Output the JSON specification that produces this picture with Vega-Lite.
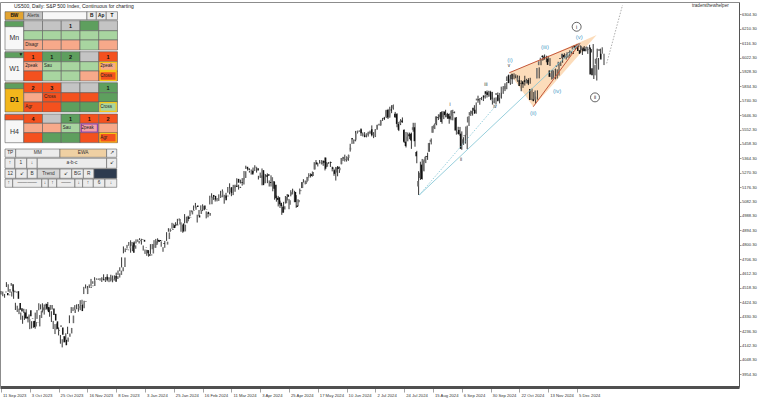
{
"$schema":"https://vega.github.io/schema/vega-lite/v6.json",
"width":739,"height":385,
"autosize":{"type":"none"},
"padding":{"left":0,"top":2,"right":19,"bottom":15},
"background":"white",
"config":{"view":{"stroke":null},"font":"Liberation Sans"},
"datasets":{
"k":[
{"i":0,"o":4489,"h":4498,"l":4475,"c":4495},{"i":1,"o":4485,"h":4495,"l":4464,"c":4470},{"i":2,"o":4470,"h":4479,"l":4454,"c":4475},{"i":3,"o":4532,"h":4556,"l":4524,"c":4550},{"i":4,"o":4542,"h":4542,"l":4493,"c":4495},{"i":5,"o":4490,"h":4511,"l":4487,"c":4499},{"i":6,"o":4493,"h":4494,"l":4462,"c":4489},{"i":7,"o":4497,"h":4506,"l":4447,"c":4447},{"i":8,"o":4420,"h":4421,"l":4374,"c":4375},{"i":9,"o":4386,"h":4402,"l":4361,"c":4365},
{"i":10,"o":4355,"h":4383,"l":4347,"c":4382},{"i":11,"o":4358,"h":4358,"l":4310,"c":4319},{"i":12,"o":4328,"h":4337,"l":4284,"c":4319},{"i":13,"o":4314,"h":4362,"l":4309,"c":4345},{"i":14,"o":4373,"h":4379,"l":4319,"c":4333},{"i":15,"o":4317,"h":4333,"l":4293,"c":4321},{"i":16,"o":4303,"h":4314,"l":4249,"c":4262},{"i":17,"o":4266,"h":4301,"l":4253,"c":4296},{"i":18,"o":4293,"h":4301,"l":4258,"c":4291},{"i":19,"o":4267,"h":4357,"l":4252,"c":4341},
{"i":20,"o":4322,"h":4374,"l":4316,"c":4369},{"i":21,"o":4372,"h":4418,"l":4372,"c":4391},{"i":22,"o":4400,"h":4411,"l":4378,"c":4409},{"i":23,"o":4413,"h":4418,"l":4358,"c":4382},{"i":24,"o":4393,"h":4410,"l":4344,"c":4360},{"i":25,"o":4375,"h":4416,"l":4375,"c":4407},{"i":26,"o":4378,"h":4426,"l":4370,"c":4406},{"i":27,"o":4384,"h":4391,"l":4330,"c":4341},{"i":28,"o":4349,"h":4366,"l":4296,"c":4305},{"i":29,"o":4300,"h":4303,"l":4250,"c":4251},
{"i":30,"o":4238,"h":4282,"l":4217,"c":4244},{"i":31,"o":4263,"h":4286,"l":4247,"c":4275},{"i":32,"o":4259,"h":4260,"l":4208,"c":4213},{"i":33,"o":4202,"h":4211,"l":4154,"c":4164},{"i":34,"o":4180,"h":4183,"l":4130,"c":4144},{"i":35,"o":4167,"h":4204,"l":4162,"c":4194},{"i":36,"o":4199,"h":4222,"l":4180,"c":4221},{"i":37,"o":4221,"h":4265,"l":4217,"c":4257},{"i":38,"o":4288,"h":4339,"l":4288,"c":4338},{"i":39,"o":4354,"h":4393,"l":4354,"c":4378},
{"i":40,"o":4384,"h":4392,"l":4367,"c":4385},{"i":41,"o":4386,"h":4406,"l":4375,"c":4398},{"i":42,"o":4404,"h":4411,"l":4379,"c":4403},{"i":43,"o":4411,"h":4413,"l":4363,"c":4367},{"i":44,"o":4385,"h":4438,"l":4373,"c":4435},{"i":45,"o":4426,"h":4441,"l":4413,"c":4431},{"i":46,"o":4478,"h":4525,"l":4478,"c":4516},{"i":47,"o":4525,"h":4541,"l":4515,"c":4522},{"i":48,"o":4517,"h":4531,"l":4507,"c":4528},{"i":49,"o":4529,"h":4541,"l":4520,"c":4534},
{"i":50,"o":4531,"h":4577,"l":4531,"c":4567},{"i":51,"o":4558,"h":4562,"l":4545,"c":4558},{"i":52,"o":4573,"h":4588,"l":4565,"c":4576},{"i":53,"o":4576,"h":4580,"l":4572,"c":4577},{"i":54,"o":4575,"h":4580,"l":4572,"c":4579},{"i":55,"o":4575,"h":4582,"l":4566,"c":4570},{"i":56,"o":4565,"h":4588,"l":4557,"c":4574},{"i":57,"o":4591,"h":4607,"l":4567,"c":4571},{"i":58,"o":4579,"h":4589,"l":4557,"c":4588},{"i":59,"o":4568,"h":4608,"l":4561,"c":4604},
{"i":60,"o":4574,"h":4584,"l":4556,"c":4578},{"i":61,"o":4566,"h":4587,"l":4560,"c":4576},{"i":62,"o":4596,"h":4599,"l":4555,"c":4558},{"i":63,"o":4577,"h":4600,"l":4575,"c":4594},{"i":64,"o":4586,"h":4618,"l":4584,"c":4613},{"i":65,"o":4603,"h":4632,"l":4603,"c":4631},{"i":66,"o":4627,"h":4653,"l":4627,"c":4653},{"i":67,"o":4655,"h":4718,"l":4652,"c":4716},{"i":68,"o":4772,"h":4789,"l":4744,"c":4769},{"i":69,"o":4764,"h":4776,"l":4752,"c":4769},
{"i":70,"o":4776,"h":4799,"l":4775,"c":4790},{"i":71,"o":4793,"h":4818,"l":4793,"c":4818},{"i":72,"o":4814,"h":4829,"l":4748,"c":4748},{"i":73,"o":4774,"h":4798,"l":4758,"c":4796},{"i":74,"o":4804,"h":4822,"l":4787,"c":4805},{"i":75,"o":4808,"h":4835,"l":4808,"c":4825},{"i":76,"o":4823,"h":4835,"l":4819,"c":4831},{"i":77,"o":4836,"h":4843,"l":4830,"c":4833},{"i":78,"o":4832,"h":4839,"l":4801,"c":4820},{"i":79,"o":4785,"h":4795,"l":4762,"c":4783},
{"i":80,"o":4766,"h":4769,"l":4740,"c":4745},{"i":81,"o":4738,"h":4767,"l":4728,"c":4728},{"i":82,"o":4730,"h":4761,"l":4722,"c":4737},{"i":83,"o":4743,"h":4804,"l":4740,"c":4804},{"i":84,"o":4781,"h":4805,"l":4770,"c":4797},{"i":85,"o":4799,"h":4830,"l":4796,"c":4823},{"i":86,"o":4832,"h":4838,"l":4780,"c":4820},{"i":87,"o":4831,"h":4842,"l":4808,"c":4824},{"i":88,"o":4824,"h":4830,"l":4818,"c":4826},{"i":89,"o":4812,"h":4822,"l":4787,"c":4806},
{"i":90,"o":4779,"h":4784,"l":4754,"c":4779},{"i":91,"o":4801,"h":4825,"l":4780,"c":4820},{"i":92,"o":4837,"h":4882,"l":4825,"c":4880},{"i":93,"o":4893,"h":4908,"l":4885,"c":4891},{"i":94,"o":4896,"h":4906,"l":4884,"c":4905},{"i":95,"o":4928,"h":4943,"l":4905,"c":4909},{"i":96,"o":4926,"h":4938,"l":4909,"c":4935},{"i":97,"o":4928,"h":4947,"l":4921,"c":4931},{"i":98,"o":4932,"h":4969,"l":4927,"c":4968},{"i":99,"o":4965,"h":4972,"l":4957,"c":4965},
{"i":100,"o":4939,"h":4946,"l":4885,"c":4886},{"i":101,"o":4887,"h":4931,"l":4878,"c":4931},{"i":102,"o":4941,"h":5000,"l":4940,"c":4984},{"i":103,"o":4982,"h":4982,"l":4943,"c":4968},{"i":104,"o":4976,"h":4989,"l":4953,"c":4979},{"i":105,"o":4998,"h":5025,"l":4986,"c":5020},{"i":106,"o":5020,"h":5025,"l":5012,"c":5023},{"i":107,"o":5029,"h":5056,"l":5024,"c":5052},{"i":108,"o":5057,"h":5073,"l":5041,"c":5047},{"i":109,"o":4992,"h":4996,"l":4945,"c":4978},
{"i":110,"o":5001,"h":5027,"l":4988,"c":5026},{"i":111,"o":5029,"h":5057,"l":5024,"c":5055},{"i":112,"o":5056,"h":5064,"l":5020,"c":5031},{"i":113,"o":5031,"h":5035,"l":5025,"c":5029},{"i":114,"o":5015,"h":5018,"l":4972,"c":5001},{"i":115,"o":4989,"h":5009,"l":4979,"c":5007},{"i":116,"o":5064,"h":5120,"l":5063,"c":5113},{"i":117,"o":5125,"h":5136,"l":5106,"c":5114},{"i":118,"o":5119,"h":5122,"l":5093,"c":5095},{"i":119,"o":5099,"h":5105,"l":5082,"c":5103},
{"i":120,"o":5093,"h":5102,"l":5083,"c":5094},{"i":121,"o":5110,"h":5129,"l":5086,"c":5121},{"i":122,"o":5110,"h":5152,"l":5106,"c":5149},{"i":123,"o":5143,"h":5161,"l":5140,"c":5143},{"i":124,"o":5122,"h":5126,"l":5068,"c":5091},{"i":125,"o":5120,"h":5139,"l":5104,"c":5117},{"i":126,"o":5144,"h":5177,"l":5140,"c":5169},{"i":127,"o":5176,"h":5201,"l":5129,"c":5136},{"i":128,"o":5124,"h":5137,"l":5117,"c":5130},{"i":129,"o":5146,"h":5191,"l":5127,"c":5187},
{"i":130,"o":5186,"h":5192,"l":5172,"c":5177},{"i":131,"o":5230,"h":5234,"l":5186,"c":5205},{"i":132,"o":5178,"h":5192,"l":5160,"c":5172},{"i":133,"o":5209,"h":5225,"l":5200,"c":5204},{"i":134,"o":5194,"h":5235,"l":5186,"c":5234},{"i":135,"o":5236,"h":5281,"l":5226,"c":5280},{"i":136,"o":5309,"h":5316,"l":5295,"c":5296},{"i":137,"o":5298,"h":5301,"l":5284,"c":5289},{"i":138,"o":5274,"h":5284,"l":5271,"c":5273},{"i":139,"o":5283,"h":5291,"l":5258,"c":5259},
{"i":140,"o":5281,"h":5304,"l":5269,"c":5303},{"i":141,"o":5303,"h":5319,"l":5301,"c":5309},{"i":142,"o":5300,"h":5306,"l":5271,"c":5285},{"i":143,"o":5246,"h":5250,"l":5226,"c":5247},{"i":144,"o":5237,"h":5271,"l":5236,"c":5253},{"i":145,"o":5287,"h":5298,"l":5188,"c":5189},{"i":146,"o":5201,"h":5264,"l":5200,"c":5246},{"i":147,"o":5253,"h":5261,"l":5239,"c":5244},{"i":148,"o":5260,"h":5266,"l":5202,"c":5251},{"i":149,"o":5209,"h":5220,"l":5180,"c":5203},
{"i":150,"o":5214,"h":5253,"l":5180,"c":5241},{"i":151,"o":5214,"h":5217,"l":5149,"c":5165},{"i":152,"o":5191,"h":5210,"l":5094,"c":5103},{"i":153,"o":5106,"h":5121,"l":5081,"c":5093},{"i":154,"o":5110,"h":5119,"l":5050,"c":5064},{"i":155,"o":5074,"h":5088,"l":5040,"c":5053},{"i":156,"o":5048,"h":5061,"l":4995,"c":5009},{"i":157,"o":5030,"h":5080,"l":5011,"c":5052},{"i":158,"o":5071,"h":5118,"l":5069,"c":5112},{"i":159,"o":5127,"h":5131,"l":5089,"c":5113},
{"i":160,"o":5061,"h":5099,"l":5032,"c":5090},{"i":161,"o":5127,"h":5156,"l":5116,"c":5142},{"i":162,"o":5156,"h":5166,"l":5131,"c":5158},{"i":163,"o":5145,"h":5152,"l":5078,"c":5078},{"i":164,"o":5057,"h":5124,"l":5041,"c":5046},{"i":165,"o":5078,"h":5097,"l":5051,"c":5092},{"i":166,"o":5150,"h":5167,"l":5129,"c":5156},{"i":167,"o":5170,"h":5209,"l":5170,"c":5209},{"i":168,"o":5215,"h":5228,"l":5206,"c":5215},{"i":169,"o":5196,"h":5219,"l":5194,"c":5215},
{"i":170,"o":5217,"h":5243,"l":5208,"c":5242},{"i":171,"o":5253,"h":5267,"l":5238,"c":5251},{"i":172,"o":5261,"h":5266,"l":5239,"c":5249},{"i":173,"o":5249,"h":5278,"l":5245,"c":5275},{"i":174,"o":5292,"h":5339,"l":5291,"c":5336},{"i":175,"o":5338,"h":5353,"l":5324,"c":5325},{"i":176,"o":5331,"h":5333,"l":5311,"c":5331},{"i":177,"o":5333,"h":5353,"l":5330,"c":5336},{"i":178,"o":5326,"h":5352,"l":5325,"c":5349},{"i":179,"o":5347,"h":5351,"l":5315,"c":5335},
{"i":180,"o":5369,"h":5370,"l":5285,"c":5296},{"i":181,"o":5310,"h":5339,"l":5307,"c":5333},{"i":182,"o":5333,"h":5340,"l":5328,"c":5336},{"i":183,"o":5338,"h":5343,"l":5308,"c":5334},{"i":184,"o":5306,"h":5310,"l":5279,"c":5295},{"i":185,"o":5287,"h":5296,"l":5250,"c":5263},{"i":186,"o":5271,"h":5308,"l":5219,"c":5305},{"i":187,"o":5309,"h":5314,"l":5247,"c":5295},{"i":188,"o":5287,"h":5310,"l":5269,"c":5303},{"i":189,"o":5326,"h":5366,"l":5325,"c":5366},
{"i":190,"o":5369,"h":5374,"l":5347,"c":5364},{"i":191,"o":5355,"h":5388,"l":5343,"c":5359},{"i":192,"o":5353,"h":5377,"l":5343,"c":5373},{"i":193,"o":5366,"h":5388,"l":5348,"c":5387},{"i":194,"o":5421,"h":5459,"l":5408,"c":5433},{"i":195,"o":5496,"h":5497,"l":5458,"c":5489},{"i":196,"o":5479,"h":5487,"l":5459,"c":5486},{"i":197,"o":5486,"h":5543,"l":5475,"c":5528},{"i":198,"o":5532,"h":5545,"l":5526,"c":5542},{"i":199,"o":5542,"h":5547,"l":5537,"c":5543},
{"i":200,"o":5554,"h":5560,"l":5510,"c":5528},{"i":201,"o":5515,"h":5533,"l":5507,"c":5519},{"i":202,"o":5514,"h":5535,"l":5502,"c":5503},{"i":203,"o":5515,"h":5527,"l":5501,"c":5524},{"i":204,"o":5516,"h":5538,"l":5506,"c":5532},{"i":205,"o":5529,"h":5545,"l":5522,"c":5538},{"i":206,"o":5554,"h":5579,"l":5507,"c":5515},{"i":207,"o":5516,"h":5535,"l":5496,"c":5520},{"i":208,"o":5506,"h":5554,"l":5503,"c":5554},{"i":209,"o":5552,"h":5584,"l":5552,"c":5582},
{"i":210,"o":5582,"h":5590,"l":5578,"c":5585},{"i":211,"o":5582,"h":5615,"l":5576,"c":5612},{"i":212,"o":5617,"h":5628,"l":5608,"c":5617},{"i":213,"o":5629,"h":5635,"l":5614,"c":5622},{"i":214,"o":5636,"h":5681,"l":5627,"c":5678},{"i":215,"o":5680,"h":5687,"l":5621,"c":5630},{"i":216,"o":5636,"h":5701,"l":5629,"c":5660},{"i":217,"o":5683,"h":5711,"l":5659,"c":5676},{"i":218,"o":5689,"h":5715,"l":5682,"c":5712},{"i":219,"o":5655,"h":5667,"l":5629,"c":5633},
{"i":220,"o":5653,"h":5659,"l":5567,"c":5589},{"i":221,"o":5588,"h":5602,"l":5542,"c":5550},{"i":222,"o":5590,"h":5620,"l":5581,"c":5609},{"i":223,"o":5611,"h":5631,"l":5596,"c":5600},{"i":224,"o":5550,"h":5553,"l":5464,"c":5472},{"i":225,"o":5473,"h":5536,"l":5435,"c":5444},{"i":226,"o":5479,"h":5533,"l":5475,"c":5504},{"i":227,"o":5522,"h":5532,"l":5489,"c":5508},{"i":228,"o":5524,"h":5532,"l":5426,"c":5481},{"i":229,"o":5550,"h":5596,"l":5538,"c":5567},
{"i":230,"o":5567,"h":5596,"l":5440,"c":5476},{"i":231,"o":5406,"h":5413,"l":5332,"c":5377},{"i":232,"o":5181,"h":5280,"l":5125,"c":5216},{"i":233,"o":5236,"h":5342,"l":5223,"c":5270},{"i":234,"o":5323,"h":5360,"l":5225,"c":5229},{"i":235,"o":5283,"h":5357,"l":5279,"c":5349},{"i":236,"o":5343,"h":5380,"l":5333,"c":5374},{"i":237,"o":5380,"h":5401,"l":5354,"c":5374},{"i":238,"o":5407,"h":5466,"l":5407,"c":5464},{"i":239,"o":5472,"h":5494,"l":5455,"c":5485},
{"i":240,"o":5531,"h":5576,"l":5531,"c":5573},{"i":241,"o":5561,"h":5592,"l":5555,"c":5584},{"i":242,"o":5587,"h":5638,"l":5580,"c":5638},{"i":243,"o":5632,"h":5651,"l":5614,"c":5627},{"i":244,"o":5633,"h":5663,"l":5621,"c":5650},{"i":245,"o":5667,"h":5673,"l":5590,"c":5601},{"i":246,"o":5632,"h":5671,"l":5620,"c":5664},{"i":247,"o":5669,"h":5681,"l":5632,"c":5646},{"i":248,"o":5633,"h":5661,"l":5623,"c":5655},{"i":249,"o":5654,"h":5657,"l":5590,"c":5622},
{"i":250,"o":5638,"h":5676,"l":5613,"c":5622},{"i":251,"o":5642,"h":5681,"l":5612,"c":5678},{"i":252,"o":5666,"h":5670,"l":5658,"c":5663},{"i":253,"o":5630,"h":5634,"l":5519,"c":5546},{"i":254,"o":5524,"h":5570,"l":5521,"c":5538},{"i":255,"o":5549,"h":5569,"l":5511,"c":5521},{"i":256,"o":5525,"h":5540,"l":5420,"c":5426},{"i":257,"o":5460,"h":5502,"l":5452,"c":5489},{"i":258,"o":5509,"h":5519,"l":5460,"c":5514},{"i":259,"o":5514,"h":5578,"l":5424,"c":5572},
{"i":260,"o":5598,"h":5640,"l":5575,"c":5636},{"i":261,"o":5643,"h":5676,"l":5641,"c":5666},{"i":262,"o":5655,"h":5676,"l":5643,"c":5673},{"i":263,"o":5695,"h":5711,"l":5654,"c":5674},{"i":264,"o":5681,"h":5729,"l":5655,"c":5658},{"i":265,"o":5742,"h":5773,"l":5727,"c":5754},{"i":266,"o":5749,"h":5755,"l":5714,"c":5743},{"i":267,"o":5751,"h":5765,"l":5744,"c":5758},{"i":268,"o":5773,"h":5775,"l":5738,"c":5772},{"i":269,"o":5773,"h":5782,"l":5754,"c":5762},
{"i":270,"o":5802,"h":5807,"l":5761,"c":5785},{"i":271,"o":5795,"h":5805,"l":5767,"c":5778},{"i":272,"o":5767,"h":5805,"l":5744,"c":5802},{"i":273,"o":5797,"h":5798,"l":5715,"c":5749},{"i":274,"o":5738,"h":5760,"l":5723,"c":5750},{"i":275,"o":5726,"h":5762,"l":5715,"c":5740},{"i":276,"o":5777,"h":5794,"l":5744,"c":5791},{"i":277,"o":5777,"h":5779,"l":5723,"c":5736},{"i":278,"o":5759,"h":5797,"l":5754,"c":5791},{"i":279,"o":5792,"h":5836,"l":5785,"c":5832},
{"i":280,"o":5818,"h":5836,"l":5803,"c":5820},{"i":281,"o":5815,"h":5862,"l":5815,"c":5855},{"i":282,"o":5869,"h":5911,"l":5869,"c":5899},{"i":283,"o":5906,"h":5910,"l":5844,"c":5855},{"i":284,"o":5857,"h":5884,"l":5850,"c":5883},{"i":285,"o":5916,"h":5919,"l":5880,"c":5881},{"i":286,"o":5900,"h":5912,"l":5886,"c":5905},{"i":287,"o":5897,"h":5906,"l":5864,"c":5893},{"i":288,"o":5872,"h":5903,"l":5865,"c":5891},{"i":289,"o":5874,"h":5874,"l":5802,"c":5837},
{"i":290,"o":5853,"h":5857,"l":5824,"c":5849},{"i":291,"o":5867,"h":5903,"l":5839,"c":5848},{"i":292,"o":5874,"h":5883,"l":5862,"c":5863},{"i":293,"o":5853,"h":5887,"l":5842,"c":5873},{"i":294,"o":5875,"h":5890,"l":5851,"c":5853},{"i":295,"o":5816,"h":5820,"l":5743,"c":5745},{"i":296,"o":5748,"h":5797,"l":5748,"c":5754},{"i":297,"o":5750,"h":5767,"l":5721,"c":5737},{"i":298,"o":5747,"h":5808,"l":5747,"c":5807},{"i":299,"o":5886,"h":5958,"l":5886,"c":5954},
{"i":300,"o":5972,"h":6008,"l":5972,"c":5998},{"i":301,"o":6002,"h":6037,"l":6002,"c":6021},{"i":302,"o":6034,"h":6042,"l":6011,"c":6026},{"i":303,"o":6029,"h":6034,"l":5991,"c":6009},{"i":304,"o":6010,"h":6033,"l":5994,"c":6010},{"i":305,"o":6015,"h":6018,"l":5967,"c":5974},{"i":306,"o":5938,"h":5940,"l":5878,"c":5896},{"i":307,"o":5895,"h":5934,"l":5890,"c":5919},{"i":308,"o":5882,"h":5950,"l":5880,"c":5942},{"i":309,"o":5940,"h":5945,"l":5885,"c":5943},
{"i":310,"o":5960,"h":5989,"l":5904,"c":5973},{"i":311,"o":5969,"h":5998,"l":5967,"c":5994},{"i":312,"o":6017,"h":6046,"l":5988,"c":6012},{"i":313,"o":6017,"h":6050,"l":6017,"c":6046},{"i":314,"o":6039,"h":6045,"l":6009,"c":6024},{"i":315,"o":6024,"h":6037,"l":6020,"c":6033},{"i":316,"o":6028,"h":6069,"l":6028,"c":6057},{"i":317,"o":6052,"h":6065,"l":6047,"c":6059},{"i":318,"o":6054,"h":6064,"l":6045,"c":6062},{"i":319,"o":6075,"h":6101,"l":6073,"c":6098},
{"i":320,"o":6101,"h":6111,"l":6082,"c":6087},{"i":321,"o":6094,"h":6111,"l":6091,"c":6102},{"i":322,"o":6095,"h":6101,"l":6053,"c":6065},{"i":323,"o":6070,"h":6077,"l":6039,"c":6046},{"i":324,"o":6070,"h":6097,"l":6065,"c":6096},{"i":325,"o":6087,"h":6091,"l":6063,"c":6063},{"i":326,"o":6080,"h":6090,"l":6046,"c":6063},{"i":327,"o":6083,"h":6105,"l":6079,"c":6094},{"i":328,"o":6073,"h":6077,"l":6055,"c":6071},{"i":329,"o":6087,"h":6110,"l":5907,"c":5912},
{"i":330,"o":5952,"h":5975,"l":5906,"c":5907},{"i":331,"o":5882,"h":6022,"l":5872,"c":5970},{"i":332,"o":5981,"h":6019,"l":5943,"c":6014},{"i":333,"o":6024,"h":6080,"l":6022,"c":6080},{"i":334,"o":6065,"h":6089,"l":6047,"c":6077},{"i":335,"o":6046,"h":6047,"l":5973,"c":6010}
],
"tri":[{"i":282.4,"hi":5923,"lo":5923},{"i":295.7,"hi":5990,"lo":5701},{"i":330.9,"hi":6169,"lo":6169}],
"wedge":[{"i1":282.4,"p1":5923,"i2":321.7,"p2":6115},{"i1":295.7,"p1":5701,"i2":321.7,"p2":6115}],
"tsolid":[{"i1":232.4,"p1":5125,"i2":321.7,"p2":6115}],
"tdot":[{"i1":232.4,"p1":5125,"i2":275.5,"p2":5716}],
"gdot":[{"i1":336.5,"p1":5984,"i2":345.3,"p2":6365}],
"wl":[{"i":282.8,"p":6006,"t":"(i)"},{"i":295.7,"p":5658,"t":"(ii)"},{"i":302.2,"p":6089,"t":"(iii)"},{"i":309,"p":5806,"t":"(iv)"},{"i":321.3,"p":6154,"t":"(v)"}],
"sl":[{"i":249.4,"p":5712,"t":"i"},{"i":255.6,"p":5353,"t":"ii"},{"i":269.4,"p":5843,"t":"iii"},{"i":274.4,"p":5697,"t":"iv"},{"i":282.2,"p":5966,"t":"v"}],
"cl":[{"i":319.8,"p":6223,"t":"i"},{"i":330,"p":5762,"t":"ii"}],
"cells":[
{"c":0,"c2":1,"r":0,"r2":0.8,"s":"bw"},{"c":1,"c2":2,"r":0,"r2":0.8,"s":"g0"},{"c":2,"c2":4.37,"r":0,"r2":0.8,"s":"w"},{"c":4.37,"c2":4.87,"r":0,"r2":0.8,"s":"bt"},{"c":4.87,"c2":5.4,"r":0,"r2":0.8,"s":"bt"},{"c":5.4,"c2":6,"r":0,"r2":0.8,"s":"bt"},
{"c":0,"c2":1,"r":0.9,"r2":3.83,"s":"w"},{"c":0,"c2":1,"r":0.95,"r2":1.5,"s":"dg"},
{"c":0,"c2":1,"r":4.0,"r2":6.93,"s":"w"},{"c":0,"c2":1,"r":4.05,"r2":4.6,"s":"dg"},
{"c":0,"c2":1,"r":7.1,"r2":10.03,"s":"yl"},{"c":0,"c2":1,"r":7.15,"r2":7.7,"s":"dg"},
{"c":0,"c2":1,"r":10.23,"r2":13.1,"s":"w"},{"c":0,"c2":1,"r":10.28,"r2":10.83,"s":"rd"},
{"c":1,"c2":2,"r":0.9,"r2":1.9,"s":"g0"},{"c":2,"c2":3,"r":0.9,"r2":1.9,"s":"g0"},{"c":3,"c2":4,"r":0.9,"r2":1.9,"s":"g0"},{"c":4,"c2":5,"r":0.9,"r2":1.9,"s":"dg"},{"c":5,"c2":6,"r":0.9,"r2":1.9,"s":"g0"},
{"c":1,"c2":2,"r":1.9,"r2":2.83,"s":"lg"},{"c":2,"c2":3,"r":1.9,"r2":2.83,"s":"lg"},{"c":3,"c2":4,"r":1.9,"r2":2.83,"s":"lg"},{"c":4,"c2":5,"r":1.9,"r2":2.83,"s":"lg"},{"c":5,"c2":6,"r":1.9,"r2":2.83,"s":"lg"},
{"c":1,"c2":2,"r":2.83,"r2":3.83,"s":"lr"},{"c":2,"c2":3,"r":2.83,"r2":3.83,"s":"lr"},{"c":3,"c2":4,"r":2.83,"r2":3.83,"s":"lr"},{"c":4,"c2":5,"r":2.83,"r2":3.83,"s":"lg"},{"c":5,"c2":6,"r":2.83,"r2":3.83,"s":"lr"},
{"c":1,"c2":2,"r":4.0,"r2":5.0,"s":"rd"},{"c":2,"c2":3,"r":4.0,"r2":5.0,"s":"dg"},{"c":3,"c2":4,"r":4.0,"r2":5.0,"s":"dg"},{"c":4,"c2":5,"r":4.0,"r2":5.0,"s":"g0"},{"c":5,"c2":6,"r":4.0,"r2":5.0,"s":"rd"},
{"c":1,"c2":2,"r":5.0,"r2":5.93,"s":"lr"},{"c":2,"c2":3,"r":5.0,"r2":5.93,"s":"lg"},{"c":3,"c2":4,"r":5.0,"r2":5.93,"s":"lg"},{"c":4,"c2":5,"r":5.0,"r2":5.93,"s":"lg"},{"c":5,"c2":6,"r":5.0,"r2":5.93,"s":"lr"},
{"c":1,"c2":2,"r":5.93,"r2":6.93,"s":"rd"},{"c":2,"c2":3,"r":5.93,"r2":6.93,"s":"lg"},{"c":3,"c2":4,"r":5.93,"r2":6.93,"s":"lg"},{"c":4,"c2":5,"r":5.93,"r2":6.93,"s":"lr"},{"c":5,"c2":6,"r":5.93,"r2":6.93,"s":"rd"},
{"c":1,"c2":2,"r":7.1,"r2":8.1,"s":"rd"},{"c":2,"c2":3,"r":7.1,"r2":8.1,"s":"rd"},{"c":3,"c2":4,"r":7.1,"r2":8.1,"s":"g0"},{"c":4,"c2":5,"r":7.1,"r2":8.1,"s":"g0"},{"c":5,"c2":6,"r":7.1,"r2":8.1,"s":"dg"},
{"c":1,"c2":2,"r":8.1,"r2":9.03,"s":"lr"},{"c":2,"c2":3,"r":8.1,"r2":9.03,"s":"rd"},{"c":3,"c2":4,"r":8.1,"r2":9.03,"s":"rd"},{"c":4,"c2":5,"r":8.1,"r2":9.03,"s":"rd"},{"c":5,"c2":6,"r":8.1,"r2":9.03,"s":"dg"},
{"c":1,"c2":2,"r":9.03,"r2":10.03,"s":"rd"},{"c":2,"c2":3,"r":9.03,"r2":10.03,"s":"rd"},{"c":3,"c2":4,"r":9.03,"r2":10.03,"s":"dg"},{"c":4,"c2":5,"r":9.03,"r2":10.03,"s":"dg"},{"c":5,"c2":6,"r":9.03,"r2":10.03,"s":"lg"},
{"c":1,"c2":2,"r":10.23,"r2":11.16,"s":"rd"},{"c":2,"c2":3,"r":10.23,"r2":11.16,"s":"g0"},{"c":3,"c2":4,"r":10.23,"r2":11.16,"s":"dg"},{"c":4,"c2":5,"r":10.23,"r2":11.16,"s":"rd"},{"c":5,"c2":6,"r":10.23,"r2":11.16,"s":"rd"},
{"c":1,"c2":2,"r":11.16,"r2":12.1,"s":"lr"},{"c":2,"c2":3,"r":11.16,"r2":12.1,"s":"lr"},{"c":3,"c2":4,"r":11.16,"r2":12.1,"s":"lg"},{"c":4,"c2":5,"r":11.16,"r2":12.1,"s":"pk"},{"c":5,"c2":6,"r":11.16,"r2":12.1,"s":"lr"},
{"c":1,"c2":2,"r":12.1,"r2":13.1,"s":"rd"},{"c":2,"c2":3,"r":12.1,"r2":13.1,"s":"dg"},{"c":3,"c2":4,"r":12.1,"r2":13.1,"s":"dg"},{"c":4,"c2":5,"r":12.1,"r2":13.1,"s":"rd"},{"c":5,"c2":6,"r":12.1,"r2":13.1,"s":"rd"},
{"c":0,"c2":0.57,"r":13.73,"r2":14.56,"s":"bt"},{"c":0.57,"c2":2.93,"r":13.73,"r2":14.56,"s":"bt"},{"c":2.93,"c2":5.42,"r":13.73,"r2":14.56,"s":"tan"},{"c":5.42,"c2":5.96,"r":13.73,"r2":14.56,"s":"bt"},
{"c":0,"c2":0.53,"r":14.66,"r2":15.66,"s":"bt"},{"c":0.53,"c2":1.16,"r":14.66,"r2":15.66,"s":"bt"},{"c":1.16,"c2":1.72,"r":14.66,"r2":15.66,"s":"bt"},{"c":1.72,"c2":5.42,"r":14.66,"r2":15.66,"s":"bt"},{"c":5.42,"c2":5.96,"r":14.66,"r2":15.66,"s":"bt"},
{"c":0,"c2":0.57,"r":15.73,"r2":16.66,"s":"bt"},{"c":0.57,"c2":1.19,"r":15.73,"r2":16.66,"s":"bt"},{"c":1.19,"c2":1.72,"r":15.73,"r2":16.66,"s":"bt"},{"c":1.72,"c2":2.93,"r":15.73,"r2":16.66,"s":"g1"},{"c":2.93,"c2":3.56,"r":15.73,"r2":16.66,"s":"bt"},{"c":3.56,"c2":4.18,"r":15.73,"r2":16.66,"s":"bt"},{"c":4.18,"c2":4.75,"r":15.73,"r2":16.66,"s":"bt"},{"c":4.75,"c2":5.96,"r":15.73,"r2":16.66,"s":"nv"},
{"c":0,"c2":0.41,"r":16.73,"r2":17.56,"s":"bt"},{"c":0.41,"c2":1.96,"r":16.73,"r2":17.56,"s":"bt"},{"c":1.96,"c2":2.31,"r":16.73,"r2":17.56,"s":"bt"},{"c":2.31,"c2":2.76,"r":16.73,"r2":17.56,"s":"bt"},{"c":2.76,"c2":3.73,"r":16.73,"r2":17.56,"s":"bt"},{"c":3.73,"c2":4.14,"r":16.73,"r2":17.56,"s":"bt"},{"c":4.14,"c2":4.71,"r":16.73,"r2":17.56,"s":"bt"},{"c":4.71,"c2":5.33,"r":16.73,"r2":17.56,"s":"bt"},{"c":5.33,"c2":5.96,"r":16.73,"r2":17.56,"s":"bt"}
],
"hl":[{"c":5.07,"c2":5.93,"r":5.07,"r2":5.86,"h":"y"},{"c":5.07,"c2":5.93,"r":6.0,"r2":6.86,"h":"y"},{"c":5.07,"c2":5.93,"r":9.1,"r2":9.96,"h":"y"},{"c":5.07,"c2":5.93,"r":12.17,"r2":13.03,"h":"y"},{"c":4.07,"c2":4.93,"r":11.23,"r2":12.03,"h":"p"}],
"pt":[
{"x":3.5,"y":1.4,"t":"1","k":"num"},{"x":1.5,"y":4.5,"t":"1","k":"num"},{"x":2.5,"y":4.5,"t":"1","k":"num"},{"x":3.5,"y":4.5,"t":"2","k":"num"},{"x":5.5,"y":4.5,"t":"1","k":"num"},
{"x":1.5,"y":7.6,"t":"2","k":"num"},{"x":2.5,"y":7.6,"t":"3","k":"num"},{"x":5.5,"y":7.6,"t":"1","k":"num"},
{"x":1.5,"y":10.7,"t":"4","k":"num"},{"x":3.5,"y":10.7,"t":"1","k":"num"},{"x":4.5,"y":10.7,"t":"1","k":"num"},{"x":5.5,"y":10.7,"t":"2","k":"num"},
{"x":1.08,"y":3.33,"t":"Disagr","k":"word"},{"x":1.08,"y":5.47,"t":"2peak","k":"word"},{"x":2.08,"y":5.47,"t":"Sau","k":"word"},{"x":5.08,"y":5.47,"t":"2peak","k":"word"},{"x":5.08,"y":6.43,"t":"Cross","k":"word"},
{"x":2.08,"y":8.57,"t":"Cross","k":"word"},{"x":1.08,"y":9.53,"t":"Agr","k":"word"},{"x":5.08,"y":9.53,"t":"Cross","k":"word"},
{"x":3.08,"y":11.63,"t":"Sau","k":"word"},{"x":4.08,"y":11.63,"t":"2peak","k":"word"},{"x":5.08,"y":12.6,"t":"Agr","k":"word"},
{"x":0.5,"y":2.63,"t":"Mn","k":"big"},{"x":0.5,"y":5.73,"t":"W1","k":"big"},{"x":0.5,"y":12.04,"t":"H4","k":"big"},{"x":0.5,"y":8.83,"t":"D1","k":"bigb"},
{"x":0.5,"y":0.4,"t":"BW","k":"hdr"},{"x":4.62,"y":0.4,"t":"B","k":"hdr"},{"x":5.13,"y":0.4,"t":"Ap","k":"hdr"},{"x":5.7,"y":0.4,"t":"T","k":"hdr"},{"x":0.84,"y":4.32,"t":"▼","k":"hdr"},
{"x":1.5,"y":0.4,"t":"Alerts","k":"btn"},
{"x":0.28,"y":14.15,"t":"TP","k":"btn"},{"x":1.75,"y":14.15,"t":"MM","k":"btn"},{"x":4.17,"y":14.15,"t":"EWA","k":"btn"},{"x":5.69,"y":14.15,"t":"↗","k":"btn"},
{"x":0.27,"y":15.16,"t":"↑","k":"btn"},{"x":0.85,"y":15.16,"t":"1","k":"btn"},{"x":1.44,"y":15.16,"t":"↓","k":"btn"},{"x":3.57,"y":15.16,"t":"a-b-c","k":"btn"},{"x":5.69,"y":15.16,"t":"↙","k":"btn"},
{"x":0.28,"y":16.2,"t":"12","k":"btn"},{"x":0.88,"y":16.2,"t":"↙","k":"btn"},{"x":1.45,"y":16.2,"t":"B","k":"btn"},{"x":2.32,"y":16.2,"t":"Trend","k":"btn"},{"x":3.25,"y":16.2,"t":"↙","k":"btn"},{"x":3.87,"y":16.2,"t":"BG","k":"btn"},{"x":4.46,"y":16.2,"t":"R","k":"btn"},
{"x":0.2,"y":17.15,"t":"↑","k":"btn"},{"x":1.18,"y":17.15,"t":"————","k":"btn"},{"x":2.13,"y":17.15,"t":"↓","k":"btn"},{"x":2.53,"y":17.15,"t":"↑","k":"btn"},{"x":3.25,"y":17.15,"t":"——","k":"btn"},{"x":3.93,"y":17.15,"t":"↓","k":"btn"},{"x":4.42,"y":17.15,"t":"↑","k":"btn"},{"x":5.02,"y":17.15,"t":"6","k":"btn"},{"x":5.65,"y":17.15,"t":"↓","k":"btn"},
{"x":0.48,"y":-0.57,"t":"US500, Daily:  S&P 500 Index, Continuous for charting","k":"title"},
{"x":38.6,"y":-0.57,"t":"tradersthewhelper","k":"brand"}
]
},
"layer":[
{"data":{"name":"tri"},"mark":{"type":"area","color":"#fcd6ae","opacity":0.85},
 "encoding":{"x":{"field":"i","type":"quantitative","scale":{"domain":[-0.556,410]},
   "axis":{"orient":"bottom","title":null,"values":[0,16,32,48,64,80,96,112,128,144,160,176,192,208,224,240,256,272,288,304,320],
   "labelExpr":"['11 Sep 2023','3 Oct 2023','25 Oct 2023','16 Nov 2023','8 Dec 2023','3 Jan 2024','25 Jan 2024','16 Feb 2024','11 Mar 2024','3 Apr 2024','25 Apr 2024','17 May 2024','10 Jun 2024','2 Jul 2024','24 Jul 2024','15 Aug 2024','6 Sep 2024','30 Sep 2024','22 Oct 2024','13 Nov 2024','5 Dec 2024'][round(datum.value/16)]",
   "labelAlign":"left","labelOffset":1.5,"labelFontSize":4.2,"labelColor":"#333","labelPadding":1,"labelOverlap":false,"labelBound":false,"labelFlush":false,
   "tickSize":5,"tickColor":"#666","tickWidth":0.6,"domainColor":"#505050","domainWidth":3,"grid":false}},
  "y":{"field":"hi","type":"quantitative","scale":{"domain":[3871.4,6384.6],"zero":false,"nice":false},
   "axis":{"orient":"right","title":null,"values":[3954.3,4048.3,4142.3,4236.3,4330.3,4424.3,4518.3,4612.3,4706.3,4800.3,4894.3,4988.3,5082.3,5176.3,5270.3,5364.3,5458.3,5552.3,5646.3,5740.3,5834.3,5928.3,6022.3,6116.3,6210.3,6304.3],
   "format":".2f","labelFontSize":4.1,"labelColor":"#333","labelPadding":0.5,"labelOverlap":false,"labelBound":false,"labelFlush":false,
   "tickSize":2,"tickColor":"#555","tickWidth":0.6,"domainColor":"#555","domainWidth":1,"grid":false}},
  "y2":{"field":"lo"}}},
{"data":{"name":"k"},"mark":{"type":"rule","strokeWidth":0.9,"color":"#1e1e1e"},
 "encoding":{"x":{"field":"i","type":"quantitative","scale":{"domain":[-0.556,410]},"axis":null},
  "y":{"field":"l","type":"quantitative","scale":{"domain":[3871.4,6384.6],"zero":false,"nice":false},"axis":null},"y2":{"field":"h"}}},
{"data":{"name":"k"},"mark":{"type":"bar","width":1.5},
 "encoding":{"x":{"field":"i","type":"quantitative","scale":{"domain":[-0.556,410]},"axis":null},
  "y":{"field":"o","type":"quantitative","scale":{"domain":[3871.4,6384.6],"zero":false,"nice":false},"axis":null},"y2":{"field":"c"},
  "color":{"condition":{"test":"datum.c >= datum.o","value":"#6e6e6e"},"value":"#111111"}}},
{"data":{"name":"wedge"},"mark":{"type":"rule","strokeWidth":1,"color":"#c4573a"},
 "encoding":{"x":{"field":"i1","type":"quantitative","scale":{"domain":[-0.556,410]},"axis":null},"x2":{"field":"i2"},
  "y":{"field":"p1","type":"quantitative","scale":{"domain":[3871.4,6384.6],"zero":false,"nice":false},"axis":null},"y2":{"field":"p2"}}},
{"data":{"name":"tsolid"},"mark":{"type":"rule","strokeWidth":0.8,"color":"#7cc3d3"},
 "encoding":{"x":{"field":"i1","type":"quantitative","scale":{"domain":[-0.556,410]},"axis":null},"x2":{"field":"i2"},
  "y":{"field":"p1","type":"quantitative","scale":{"domain":[3871.4,6384.6],"zero":false,"nice":false},"axis":null},"y2":{"field":"p2"}}},
{"data":{"name":"tdot"},"mark":{"type":"rule","strokeWidth":0.8,"color":"#7cc3d3","strokeDash":[1.5,1.5]},
 "encoding":{"x":{"field":"i1","type":"quantitative","scale":{"domain":[-0.556,410]},"axis":null},"x2":{"field":"i2"},
  "y":{"field":"p1","type":"quantitative","scale":{"domain":[3871.4,6384.6],"zero":false,"nice":false},"axis":null},"y2":{"field":"p2"}}},
{"data":{"name":"gdot"},"mark":{"type":"rule","strokeWidth":0.8,"color":"#999999","strokeDash":[1.5,1.5]},
 "encoding":{"x":{"field":"i1","type":"quantitative","scale":{"domain":[-0.556,410]},"axis":null},"x2":{"field":"i2"},
  "y":{"field":"p1","type":"quantitative","scale":{"domain":[3871.4,6384.6],"zero":false,"nice":false},"axis":null},"y2":{"field":"p2"}}},
{"data":{"name":"wl"},"mark":{"type":"text","fontSize":6,"color":"#4a9cc8","baseline":"middle"},
 "encoding":{"x":{"field":"i","type":"quantitative","scale":{"domain":[-0.556,410]},"axis":null},
  "y":{"field":"p","type":"quantitative","scale":{"domain":[3871.4,6384.6],"zero":false,"nice":false},"axis":null},"text":{"field":"t"}}},
{"data":{"name":"sl"},"mark":{"type":"text","fontSize":4.8,"color":"#333333","baseline":"middle"},
 "encoding":{"x":{"field":"i","type":"quantitative","scale":{"domain":[-0.556,410]},"axis":null},
  "y":{"field":"p","type":"quantitative","scale":{"domain":[3871.4,6384.6],"zero":false,"nice":false},"axis":null},"text":{"field":"t"}}},
{"data":{"name":"cl"},"mark":{"type":"point","shape":"circle","filled":true,"fill":"white","stroke":"#222222","strokeWidth":0.7,"size":80,"opacity":1},
 "encoding":{"x":{"field":"i","type":"quantitative","scale":{"domain":[-0.556,410]},"axis":null},
  "y":{"field":"p","type":"quantitative","scale":{"domain":[3871.4,6384.6],"zero":false,"nice":false},"axis":null}}},
{"data":{"name":"cl"},"mark":{"type":"text","fontSize":5,"color":"#222222","baseline":"middle"},
 "encoding":{"x":{"field":"i","type":"quantitative","scale":{"domain":[-0.556,410]},"axis":null},
  "y":{"field":"p","type":"quantitative","scale":{"domain":[3871.4,6384.6],"zero":false,"nice":false},"axis":null},"text":{"field":"t"}}},
{"data":{"name":"cells"},"mark":{"type":"rect","stroke":"#5f5f5f","strokeWidth":0.6},
 "encoding":{"x":{"field":"c","type":"quantitative","scale":{"domain":[-0.2667,39.147]},
   "axis":{"orient":"top","title":null,"labels":false,"ticks":false,"grid":false,"domainColor":"#8c8c8c"}},"x2":{"field":"c2"},
  "y":{"field":"r","type":"quantitative","scale":{"domain":[-0.97,37.53],"reverse":true,"zero":false,"nice":false},
   "axis":{"orient":"left","title":null,"labels":false,"ticks":false,"grid":false,"domainColor":"#8c8c8c"}},"y2":{"field":"r2"},
  "fill":{"field":"s","type":"nominal","legend":null,
   "scale":{"domain":["g0","lg","dg","lr","rd","pk","w","yl","bw","bt","tan","g1","nv"],
   "range":["#c4c4c4","#a8d5a0","#5e9f5e","#f7a98a","#f4511e","#f4a0a8","#f7f7f7","#f2b61c","#e3a431","#ececec","#efd0a3","#d6d6d6","#2d3b4f"]}}}},
{"data":{"name":"hl"},"mark":{"type":"rect","fill":null,"strokeWidth":1.2},
 "encoding":{"x":{"field":"c","type":"quantitative","scale":{"domain":[-0.2667,39.147]},"axis":null},"x2":{"field":"c2"},
  "y":{"field":"r","type":"quantitative","scale":{"domain":[-0.97,37.53],"reverse":true,"zero":false,"nice":false},"axis":null},"y2":{"field":"r2"},
  "stroke":{"field":"h","type":"nominal","legend":null,"scale":{"domain":["y","p"],"range":["#f5c518","#8e44ad"]}}}},
{"data":{"name":"pt"},"transform":[{"filter":"datum.k == 'num'"}],"mark":{"type":"text","fontSize":5.5,"fontWeight":"bold","color":"#111","baseline":"middle","align":"center"},
 "encoding":{"x":{"field":"x","type":"quantitative","scale":{"domain":[-0.2667,39.147]},"axis":null},
  "y":{"field":"y","type":"quantitative","scale":{"domain":[-0.97,37.53],"reverse":true,"zero":false,"nice":false},"axis":null},"text":{"field":"t"}}},
{"data":{"name":"pt"},"transform":[{"filter":"datum.k == 'word'"}],"mark":{"type":"text","fontSize":4.5,"color":"#222","baseline":"middle","align":"left"},
 "encoding":{"x":{"field":"x","type":"quantitative","scale":{"domain":[-0.2667,39.147]},"axis":null},
  "y":{"field":"y","type":"quantitative","scale":{"domain":[-0.97,37.53],"reverse":true,"zero":false,"nice":false},"axis":null},"text":{"field":"t"}}},
{"data":{"name":"pt"},"transform":[{"filter":"datum.k == 'big'"}],"mark":{"type":"text","fontSize":7,"color":"#333","baseline":"middle","align":"center"},
 "encoding":{"x":{"field":"x","type":"quantitative","scale":{"domain":[-0.2667,39.147]},"axis":null},
  "y":{"field":"y","type":"quantitative","scale":{"domain":[-0.97,37.53],"reverse":true,"zero":false,"nice":false},"axis":null},"text":{"field":"t"}}},
{"data":{"name":"pt"},"transform":[{"filter":"datum.k == 'bigb'"}],"mark":{"type":"text","fontSize":7,"fontWeight":"bold","color":"#111","baseline":"middle","align":"center"},
 "encoding":{"x":{"field":"x","type":"quantitative","scale":{"domain":[-0.2667,39.147]},"axis":null},
  "y":{"field":"y","type":"quantitative","scale":{"domain":[-0.97,37.53],"reverse":true,"zero":false,"nice":false},"axis":null},"text":{"field":"t"}}},
{"data":{"name":"pt"},"transform":[{"filter":"datum.k == 'hdr'"}],"mark":{"type":"text","fontSize":4.8,"fontWeight":"bold","color":"#111","baseline":"middle","align":"center"},
 "encoding":{"x":{"field":"x","type":"quantitative","scale":{"domain":[-0.2667,39.147]},"axis":null},
  "y":{"field":"y","type":"quantitative","scale":{"domain":[-0.97,37.53],"reverse":true,"zero":false,"nice":false},"axis":null},"text":{"field":"t"}}},
{"data":{"name":"pt"},"transform":[{"filter":"datum.k == 'btn'"}],"mark":{"type":"text","fontSize":4.8,"color":"#333","baseline":"middle","align":"center"},
 "encoding":{"x":{"field":"x","type":"quantitative","scale":{"domain":[-0.2667,39.147]},"axis":null},
  "y":{"field":"y","type":"quantitative","scale":{"domain":[-0.97,37.53],"reverse":true,"zero":false,"nice":false},"axis":null},"text":{"field":"t"}}},
{"data":{"name":"pt"},"transform":[{"filter":"datum.k == 'title'"}],"mark":{"type":"text","fontSize":5,"color":"#222","baseline":"middle","align":"left"},
 "encoding":{"x":{"field":"x","type":"quantitative","scale":{"domain":[-0.2667,39.147]},"axis":null},
  "y":{"field":"y","type":"quantitative","scale":{"domain":[-0.97,37.53],"reverse":true,"zero":false,"nice":false},"axis":null},"text":{"field":"t"}}},
{"data":{"name":"pt"},"transform":[{"filter":"datum.k == 'brand'"}],"mark":{"type":"text","fontSize":4.6,"color":"#333","baseline":"middle","align":"right"},
 "encoding":{"x":{"field":"x","type":"quantitative","scale":{"domain":[-0.2667,39.147]},"axis":null},
  "y":{"field":"y","type":"quantitative","scale":{"domain":[-0.97,37.53],"reverse":true,"zero":false,"nice":false},"axis":null},"text":{"field":"t"}}}
],
"resolve":{"scale":{"x":"independent","y":"independent","fill":"independent","stroke":"independent"},"axis":{"x":"independent","y":"independent"}}
}
